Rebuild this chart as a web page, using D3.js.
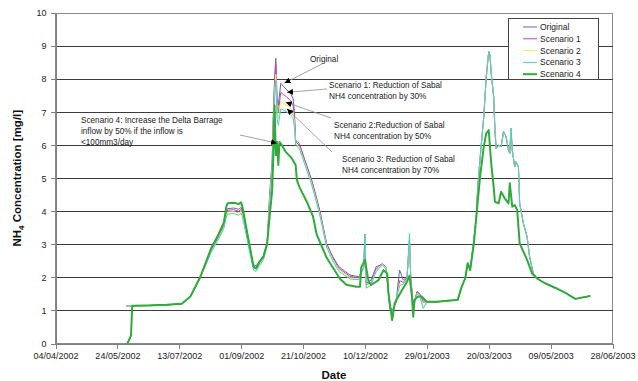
<!DOCTYPE html>
<html>
<head>
<meta charset="utf-8">
<script src="https://cdn.jsdelivr.net/npm/d3@7"></script>
<style>
  body { margin: 0; background: #fff; }
  svg { display: block; font-family: "Liberation Sans", Arial, sans-serif; }
</style>
</head>
<body>
<svg id="chart" width="638" height="381"></svg>
<script>
// ---- series labels and axis ticks ----
const seriesNames = ["Original", "Scenario 1", "Scenario 2", "Scenario 3", "Scenario 4"];
const xTickLabels = ["04/04/2002", "24/05/2002", "13/07/2002", "01/09/2002", "21/10/2002",
                     "10/12/2002", "29/01/2003", "20/03/2003", "09/05/2003", "28/06/2003"];
const yTickValues = [0, 1, 2, 3, 4, 5, 6, 7, 8, 9, 10];

// ---- Original and Scenarios 1-3: common start (mid 2002) ----
const startDates = ["31/05/2002", "05/06/2002", "18/06/2002", "03/07/2002", "15/07/2002",
                    "22/07/2002", "30/07/2002"];
const startValues = [1.14, 1.14, 1.15, 1.17, 1.20, 1.42, 2.00];

// ---- Original and Scenarios 1-3: Aug 2002 - Jan 2003, where they differ ----
const midDates = ["08/08/2002", "13/08/2002", "18/08/2002", "20/08/2002", "21/08/2002",
  "26/08/2002", "30/08/2002", "01/09/2002", "02/09/2002", "05/09/2002", "08/09/2002",
  "11/09/2002", "13/09/2002", "16/09/2002", "19/09/2002", "22/09/2002", "24/09/2002",
  "25/09/2002", "26/09/2002", "27/09/2002", "28/09/2002", "29/09/2002", "30/09/2002",
  "01/10/2002", "03/10/2002", "08/10/2002", "11/10/2002", "13/10/2002", "14/10/2002",
  "15/10/2002", "18/10/2002", "23/10/2002", "28/10/2002", "01/11/2002", "04/11/2002",
  "09/11/2002", "14/11/2002", "19/11/2002", "28/11/2002", "05/12/2002", "09/12/2002",
  "10/12/2002", "11/12/2002", "15/12/2002", "19/12/2002", "24/12/2002", "27/12/2002",
  "29/12/2002", "30/12/2002", "01/01/2003", "04/01/2003", "07/01/2003", "10/01/2003",
  "13/01/2003", "15/01/2003", "16/01/2003", "18/01/2003", "21/01/2003", "23/01/2003",
  "26/01/2003"];
const originalMid = [2.85, 3.20, 3.60, 3.98, 4.08, 4.10, 4.06, 4.12, 4.00, 3.45, 2.88,
  2.38, 2.35, 2.50, 2.66, 3.05, 4.50, 5.00, 5.50, 7.00, 8.00, 8.63, 7.40, 7.20, 7.87,
  7.67, 7.57, 7.40, 7.00, 6.15, 6.05, 5.50, 4.95, 4.40, 3.95, 3.03, 2.63, 2.32, 2.07,
  2.02, 2.30, 3.30, 1.82, 1.92, 2.32, 2.40, 2.30, 1.50, 1.11, 1.00, 1.22, 2.22, 1.92,
  2.02, 3.10, 2.00, 1.11, 1.57, 1.52, 1.32];
const scenario1Mid = [2.83, 3.17, 3.56, 3.93, 4.03, 4.05, 4.00, 4.06, 3.95, 3.40, 2.83,
  2.33, 2.30, 2.46, 2.62, 3.02, 4.40, 4.90, 5.40, 6.80, 7.85, 8.45, 7.20, 7.00, 7.60,
  7.45, 7.35, 7.20, 6.85, 6.10, 6.00, 5.45, 4.90, 4.35, 3.90, 3.00, 2.58, 2.27, 2.03,
  1.99, 2.30, 3.30, 1.78, 1.85, 2.25, 2.42, 2.30, 1.55, 1.15, 0.95, 1.25, 1.90, 1.85,
  1.98, 3.15, 2.00, 1.10, 1.55, 1.50, 1.25];
const scenario2Mid = [2.80, 3.13, 3.52, 3.88, 3.98, 3.99, 3.95, 4.00, 3.90, 3.36, 2.79,
  2.28, 2.24, 2.41, 2.58, 2.98, 4.30, 4.80, 5.30, 6.60, 7.60, 8.15, 7.00, 6.80, 7.32,
  7.20, 7.12, 7.00, 6.70, 6.05, 5.95, 5.40, 4.85, 4.30, 3.85, 2.96, 2.54, 2.23, 1.99,
  1.96, 2.30, 3.28, 1.72, 1.80, 2.20, 2.40, 2.28, 1.60, 1.10, 0.90, 1.28, 1.80, 1.80,
  1.95, 3.20, 1.90, 1.08, 1.52, 1.48, 1.15];
const scenario3Mid = [2.78, 3.10, 3.48, 3.83, 3.92, 3.93, 3.88, 3.94, 3.84, 3.30, 2.74,
  2.22, 2.18, 2.36, 2.54, 2.95, 4.20, 4.70, 5.20, 6.40, 7.40, 7.95, 6.80, 6.60, 7.10,
  7.00, 6.92, 6.80, 6.55, 6.00, 5.90, 5.35, 4.80, 4.25, 3.80, 2.92, 2.50, 2.18, 1.95,
  1.93, 2.30, 3.30, 1.67, 1.77, 2.17, 2.38, 2.25, 1.60, 1.05, 0.88, 1.30, 1.75, 1.80,
  1.95, 3.33, 1.80, 1.05, 1.50, 1.45, 1.06];

// ---- Original and Scenarios 1-3: early 2003 (identical runs) ----
const late2003Dates = ["29/01/2003", "06/02/2003", "17/02/2003", "23/02/2003", "26/02/2003",
  "01/03/2003", "03/03/2003", "05/03/2003", "08/03/2003", "10/03/2003", "11/03/2003",
  "13/03/2003", "16/03/2003", "18/03/2003", "20/03/2003", "21/03/2003", "22/03/2003",
  "24/03/2003", "25/03/2003", "26/03/2003", "28/03/2003", "30/03/2003", "01/04/2003",
  "03/04/2003", "05/04/2003", "06/04/2003", "07/04/2003", "08/04/2003", "10/04/2003",
  "11/04/2003", "13/04/2003", "14/04/2003", "17/04/2003", "20/04/2003", "22/04/2003",
  "25/04/2003", "28/04/2003"];
const late2003Values = [1.26, 1.26, 1.30, 1.32, 1.70, 1.97, 2.43, 2.22, 3.13, 3.84, 4.64,
  5.60, 6.86, 8.07, 8.83, 8.73, 8.18, 7.47, 6.46, 5.90, 6.00, 5.95, 6.41, 6.26, 5.85,
  5.75, 6.51, 5.85, 5.35, 5.50, 5.35, 4.24, 3.64, 3.23, 2.63, 2.12, 1.97];

// ---- all series: common tail (May-June 2003) ----
const tailDates = ["04/05/2003", "13/05/2003", "21/05/2003", "29/05/2003", "02/06/2003",
                   "10/06/2003"];
const tailValues = [1.83, 1.68, 1.53, 1.35, 1.38, 1.44];

// ---- Scenario 4 (Delta Barrage inflow increase) ----
const scenario4Dates = ["01/06/2002", "03/06/2002", "04/06/2002", "05/06/2002", "18/06/2002",
  "03/07/2002", "15/07/2002", "22/07/2002", "30/07/2002", "08/08/2002", "13/08/2002",
  "18/08/2002", "20/08/2002", "21/08/2002", "26/08/2002", "30/08/2002", "01/09/2002",
  "02/09/2002", "05/09/2002", "08/09/2002", "11/09/2002", "13/09/2002", "16/09/2002",
  "19/09/2002", "22/09/2002", "24/09/2002", "26/09/2002", "27/09/2002", "28/09/2002",
  "29/09/2002", "30/09/2002", "01/10/2002", "02/10/2002", "03/10/2002", "07/10/2002",
  "12/10/2002", "15/10/2002", "16/10/2002", "18/10/2002", "24/10/2002", "29/10/2002",
  "01/11/2002", "05/11/2002", "09/11/2002", "14/11/2002", "20/11/2002", "25/11/2002",
  "03/12/2002", "06/12/2002", "07/12/2002", "10/12/2002", "11/12/2002", "13/12/2002",
  "15/12/2002", "21/12/2002", "25/12/2002", "28/12/2002", "29/12/2002", "01/01/2003",
  "02/01/2003", "03/01/2003", "09/01/2003", "13/01/2003", "15/01/2003", "17/01/2003",
  "18/01/2003", "19/01/2003", "22/01/2003", "25/01/2003", "29/01/2003", "06/02/2003",
  "17/02/2003", "23/02/2003", "26/02/2003", "01/03/2003", "03/03/2003", "05/03/2003",
  "08/03/2003", "10/03/2003", "13/03/2003", "16/03/2003", "18/03/2003", "20/03/2003",
  "22/03/2003", "24/03/2003", "25/03/2003", "28/03/2003", "30/03/2003", "02/04/2003",
  "05/04/2003", "06/04/2003", "08/04/2003", "10/04/2003", "12/04/2003", "14/04/2003",
  "20/04/2003", "24/04/2003", "28/04/2003"];
const scenario4Values = [0.00, 0.15, 0.25, 1.14, 1.15, 1.17, 1.20, 1.42, 2.02, 2.90, 3.25,
  3.66, 4.14, 4.24, 4.26, 4.22, 4.27, 4.14, 3.53, 2.93, 2.32, 2.27, 2.48, 2.63, 3.03,
  3.85, 4.60, 5.70, 7.20, 5.70, 6.10, 5.40, 6.10, 6.05, 5.80, 5.60, 5.40, 4.95, 4.74,
  4.29, 3.85, 3.30, 2.95, 2.60, 2.30, 1.95, 1.78, 1.72, 1.72, 2.30, 2.53, 2.30, 1.87,
  1.77, 1.92, 2.22, 2.12, 1.52, 0.71, 0.95, 1.22, 1.62, 1.87, 2.05, 1.42, 0.81, 1.32,
  1.42, 1.42, 1.26, 1.26, 1.30, 1.32, 1.70, 1.97, 2.43, 2.22, 3.03, 3.84, 5.05, 5.95,
  6.36, 6.46, 5.45, 4.74, 4.29, 4.24, 4.59, 4.39, 4.24, 4.85, 4.14, 4.19, 4.04, 3.03,
  2.53, 2.12, 1.97];

// ---- callouts: text and the point each arrow refers to ----
const calloutTexts = [
  ["Original"],
  ["Scenario 1: Reduction of Sabal", "NH4 concentration by 30%"],
  ["Scenario 2:Reduction of Sabal", "NH4 concentration by 50%"],
  ["Scenario 3: Reduction of Sabal", "NH4 concentration by 70%"],
  ["Scenario 4: Increase the Delta Barrage", "inflow by 50% if the inflow is", "<100mm3/day"]
];
const calloutTargetDates = ["06/10/2002", "08/10/2002", "07/10/2002", "08/10/2002", "30/09/2002"];
const calloutTargetValues = [7.88, 7.60, 7.30, 7.10, 6.06];

// ---------------------------------------------------------------------
const parse = d3.timeParse("%d/%m/%Y");
const fmt = d3.timeFormat("%d/%m/%Y");
const zip = (dates, values) => dates.map((d, i) => ({ date: parse(d), value: values[i] }));

const common = (mid) => [
  ...zip(startDates, startValues),
  ...zip(midDates, mid),
  ...zip(late2003Dates, late2003Values),
  ...zip(tailDates, tailValues)
];
const series = [
  common(originalMid),
  common(scenario1Mid),
  common(scenario2Mid),
  common(scenario3Mid),
  [...zip(scenario4Dates, scenario4Values), ...zip(tailDates, tailValues)]
];

const colors = ["#6464aa", "#c83cc8", "#f0f040", "#44d0d0", "#30aa3a"];
const widths = [1, 1, 1, 1, 2];

const plotLeft = 55.5, plotRight = 612.5, plotTop = 13, plotBottom = 343.5;
const svg = d3.select("#chart");

const x = d3.scaleTime()
  .domain([parse(xTickLabels[0]), parse(xTickLabels[xTickLabels.length - 1])])
  .range([plotLeft, plotRight]);
const y = d3.scaleLinear().domain([0, 10]).range([plotBottom, plotTop]);

// plot frame and horizontal gridlines
svg.append("rect")
  .attr("x", plotLeft).attr("y", plotTop)
  .attr("width", plotRight - plotLeft).attr("height", plotBottom - plotTop)
  .attr("fill", "none").attr("stroke", "#8a8a8a").attr("shape-rendering", "crispEdges");

svg.append("g").selectAll("line")
  .data(yTickValues.filter(v => v > 0 && v < 10))
  .join("line")
  .attr("x1", plotLeft).attr("x2", plotRight)
  .attr("y1", d => y(d)).attr("y2", d => y(d))
  .attr("stroke", "#3c3c3c").attr("shape-rendering", "crispEdges");

// axes
const xAxis = svg.append("g")
  .attr("transform", `translate(0,${plotBottom})`)
  .call(d3.axisBottom(x)
    .tickValues(xTickLabels.map(parse))
    .tickFormat(fmt)
    .tickSize(5).tickSizeOuter(0).tickPadding(4));
const yAxis = svg.append("g")
  .attr("transform", `translate(${plotLeft},0)`)
  .call(d3.axisLeft(y)
    .tickValues(yTickValues)
    .tickSize(5).tickSizeOuter(0).tickPadding(4));

[xAxis, yAxis].forEach(g => {
  g.select(".domain").attr("stroke", "#808080").attr("shape-rendering", "crispEdges");
  g.selectAll(".tick line").attr("stroke", "#808080").attr("shape-rendering", "crispEdges");
  g.selectAll(".tick text")
    .attr("font-family", "'Liberation Sans', Arial, sans-serif")
    .attr("font-size", 9).attr("fill", "#222");
});

// series lines
const line = d3.line().x(d => x(d.date)).y(d => y(d.value));
svg.append("g").attr("fill", "none")
  .selectAll("path")
  .data(series)
  .join("path")
  .attr("d", line)
  .attr("stroke", (d, i) => colors[i])
  .attr("stroke-width", (d, i) => widths[i])
  .attr("stroke-linejoin", "round");

// axis titles
svg.append("text")
  .attr("x", (plotLeft + plotRight) / 2).attr("y", 379)
  .attr("text-anchor", "middle")
  .attr("font-size", 11.5).attr("font-weight", "bold").attr("fill", "#111")
  .text("Date");

const yTitle = svg.append("text")
  .attr("transform", `translate(21,${(plotTop + plotBottom) / 2}) rotate(-90)`)
  .attr("text-anchor", "middle")
  .attr("font-size", 11.5).attr("font-weight", "bold").attr("fill", "#111");
yTitle.append("tspan").text("NH");
yTitle.append("tspan").attr("font-size", 8).attr("dy", 3).text("4");
yTitle.append("tspan").attr("dy", -3).text(" Concentration [mg/l]");

// callouts with arrows
svg.append("defs").append("marker")
  .attr("id", "arrowhead")
  .attr("viewBox", "0 0 10 10").attr("refX", 10).attr("refY", 5)
  .attr("markerWidth", 6).attr("markerHeight", 6)
  .attr("markerUnits", "userSpaceOnUse")
  .attr("orient", "auto")
  .append("path").attr("d", "M0,0 L10,5 L0,10 Z").attr("fill", "#000");

const calloutLayout = [
  { tx: 310, ty: 62, sx: 322, sy: 64 },
  { tx: 329, ty: 88, sx: 327, sy: 89 },
  { tx: 334, ty: 128, sx: 331, sy: 118 },
  { tx: 342, ty: 162, sx: 332, sy: 152 },
  { tx: 81, ty: 123, sx: 240, sy: 135 }
];
const calloutG = svg.append("g");
calloutTexts.forEach((lines, i) => {
  const L = calloutLayout[i];
  calloutG.append("line")
    .attr("x1", L.sx).attr("y1", L.sy)
    .attr("x2", x(parse(calloutTargetDates[i])))
    .attr("y2", y(calloutTargetValues[i]))
    .attr("stroke", "#8c8c8c").attr("stroke-width", 0.8)
    .attr("marker-end", "url(#arrowhead)");
  const t = calloutG.append("text")
    .attr("x", L.tx).attr("y", L.ty)
    .attr("font-size", 8.2).attr("fill", "#222");
  lines.forEach((s, j) => t.append("tspan").attr("x", L.tx).attr("dy", j ? 11 : 0).text(s));
});

// legend
const legend = svg.append("g");
legend.append("rect")
  .attr("x", 508.5).attr("y", 18.5).attr("width", 90).attr("height", 61)
  .attr("fill", "#fff").attr("stroke", "#444").attr("shape-rendering", "crispEdges");
seriesNames.forEach((name, i) => {
  const ly = 27 + i * 11.8;
  legend.append("line")
    .attr("x1", 523).attr("x2", 537).attr("y1", ly).attr("y2", ly)
    .attr("stroke", colors[i]).attr("stroke-width", widths[i]);
  legend.append("text")
    .attr("x", 540).attr("y", ly + 3)
    .attr("font-size", 8.5).attr("fill", "#222")
    .text(name);
});
</script>
</body>
</html>
